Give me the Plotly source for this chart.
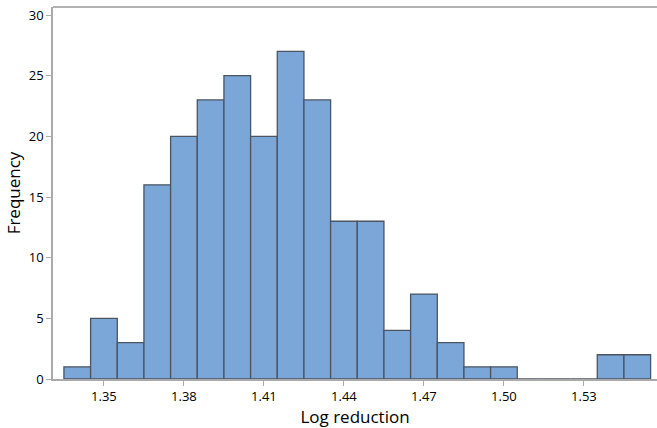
import plotly.graph_objects as go

# Histogram bins (centres) and counts
BIN_CENTERS = [1.34, 1.35, 1.36, 1.37, 1.38, 1.39, 1.40, 1.41, 1.42, 1.43, 1.44,
               1.45, 1.46, 1.47, 1.48, 1.49, 1.50, 1.51, 1.52, 1.53, 1.54, 1.55]
COUNTS = [1, 5, 3, 16, 20, 23, 25, 20, 27, 23, 13,
          13, 4, 7, 3, 1, 1, 0, 0, 0, 2, 2]
X_TICKS = [1.35, 1.38, 1.41, 1.44, 1.47, 1.50, 1.53]
Y_TICKS = [0, 5, 10, 15, 20, 25, 30]

FONT = "Open Sans"

fig = go.Figure()
fig.add_trace(
    go.Bar(
        x=BIN_CENTERS,
        y=COUNTS,
        width=0.01,
        marker=dict(color="#7BA7D8", line=dict(color="#4B5460", width=1.3)),
        hoverinfo="x+y",
    )
)

fig.update_layout(
    width=657,
    height=428,
    margin=dict(l=53, r=0, t=7, b=49),
    plot_bgcolor="white",
    paper_bgcolor="white",
    showlegend=False,
    font=dict(family=FONT, color="#000000"),
    xaxis=dict(
        range=[1.3309, 1.5574],
        tickvals=X_TICKS,
        ticktext=[f"{v:.2f}" for v in X_TICKS],
        ticks="outside",
        ticklen=5,
        tickcolor="#AAAAAA",
        tickfont=dict(size=13),
        showline=True,
        linecolor="#AAAAAA",
        linewidth=1.5,
        showgrid=False,
        zeroline=False,
        title=dict(text="Log reduction", font=dict(size=17), standoff=8),
    ),
    yaxis=dict(
        range=[0, 30.66],
        tickvals=Y_TICKS,
        ticks="outside",
        ticklen=5,
        tickcolor="#AAAAAA",
        tickfont=dict(size=13),
        showline=True,
        linecolor="#AAAAAA",
        linewidth=1.5,
        showgrid=False,
        zeroline=False,
        title=dict(text="Frequency", font=dict(size=17), standoff=4),
    ),
    shapes=[
        dict(type="line", xref="paper", yref="paper", x0=0, x1=1, y0=1, y1=1,
             line=dict(color="#999999", width=1.5)),
    ],
)

# drop the default body margin so the figure fills the window exactly
fig.write_html(
    "out.html",
    config={"displayModeBar": False},
    post_script="document.body.style.margin='0';document.body.style.overflow='hidden';",
)
